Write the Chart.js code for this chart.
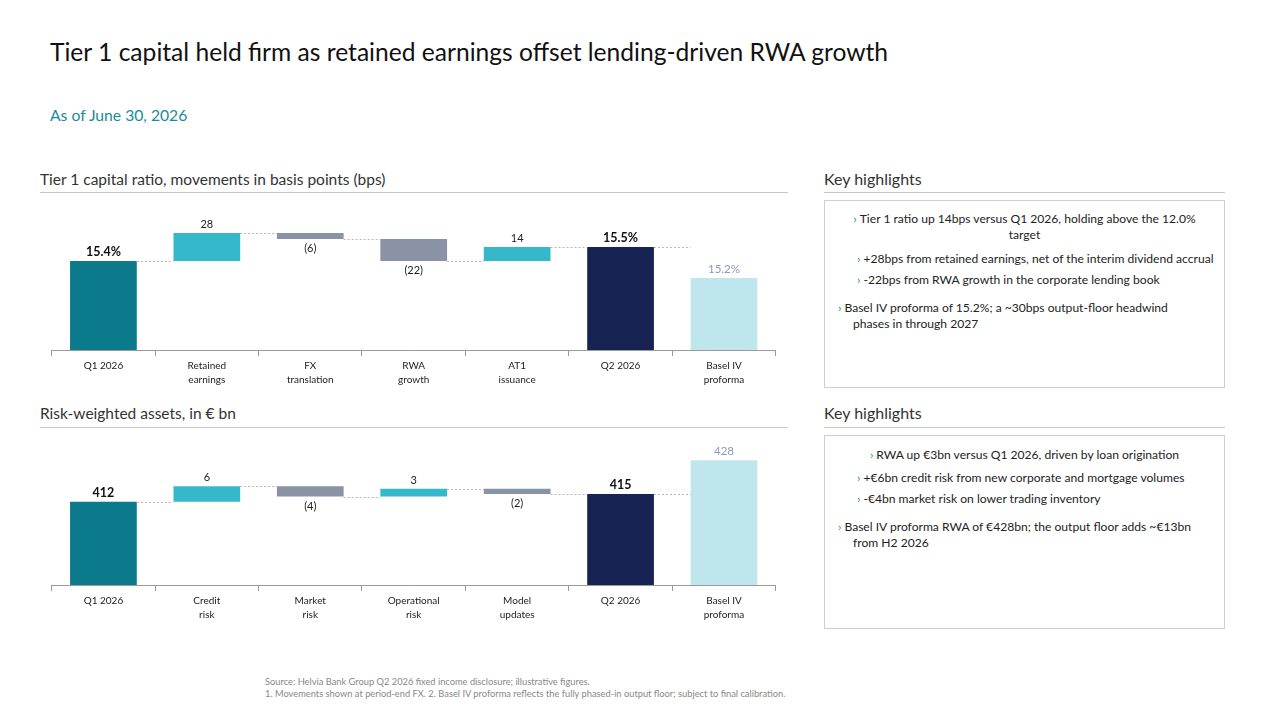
<!DOCTYPE html>
<html>
<head>
<meta charset="utf-8">
<script src="https://cdn.jsdelivr.net/npm/chart.js@4.4.1/dist/chart.umd.min.js"></script>
<style>
  body { margin: 0; background: #fff; font-family: Lato, "Open Sans", sans-serif; color: #222; }
  #page { position: relative; width: 1280px; height: 720px; overflow: hidden; }
  .abs { position: absolute; white-space: nowrap; }
  .title { left: 50px; top: 37px; font-size: 24.6px; line-height: 30px; color: #111; }
  .sub { left: 50px; top: 105px; font-size: 15.7px; line-height: 20px; color: #1a8a9c; }
  .hdr { font-size: 15.5px; line-height: 20px; color: #333; }
  .kh { font-size: 16px; line-height: 20px; color: #333; }
  .rule { position: absolute; height: 1px; background: #c8c8c8; }
  .box { position: absolute; border: 1px solid #cfcfcf; box-sizing: border-box; }
  .hl { font-size: 12.1px; line-height: 16px; color: #222; }
  .hl b { color: #1a8a9c; font-weight: normal; margin-right: 3px; }
  .hang { padding-left: 15px; text-indent: -15px; }
  .foot { left: 265px; font-size: 9.3px; line-height: 12px; color: #888; }
  canvas { position: absolute; }
</style>
</head>
<body>
<div id="page">
  <div class="abs title">Tier 1 capital held firm as retained earnings offset lending-driven RWA growth</div>
  <div class="abs sub">As of June 30, 2026</div>

  <div class="abs hdr" style="left:40px; top:169px;">Tier 1 capital ratio, movements in basis points (bps)</div>
  <div class="rule" style="left:40px; top:192px; width:748px;"></div>
  <div class="abs kh" style="left:824px; top:169px;">Key highlights</div>
  <div class="rule" style="left:824px; top:192px; width:401px;"></div>
  <div class="box" style="left:824px; top:200px; width:401px; height:188px;"></div>
  <div class="abs hl" style="left:824px; width:401px; top:211px; text-align:center;"><b>›</b>Tier 1 ratio up 14bps versus Q1 2026, holding above the 12.0%<br>target</div>
  <div class="abs hl" style="left:857px; top:251px;"><b>›</b>+28bps from retained earnings, net of the interim dividend accrual</div>
  <div class="abs hl" style="left:857px; top:272px;"><b>›</b>-22bps from RWA growth in the corporate lending book</div>
  <div class="abs hl hang" style="left:838px; top:300px;"><b>›</b>Basel IV proforma of 15.2%; a ~30bps output-floor headwind<br>phases in through 2027</div>

  <div class="abs hdr" style="left:40px; top:403px;">Risk-weighted assets, in € bn</div>
  <div class="rule" style="left:40px; top:427px; width:748px;"></div>
  <div class="abs kh" style="left:824px; top:403px;">Key highlights</div>
  <div class="rule" style="left:824px; top:427px; width:401px;"></div>
  <div class="box" style="left:824px; top:435px; width:401px; height:194px;"></div>
  <div class="abs hl" style="left:824px; width:401px; top:447px; text-align:center;"><b>›</b>RWA up €3bn versus Q1 2026, driven by loan origination</div>
  <div class="abs hl" style="left:857px; top:470px;"><b>›</b>+€6bn credit risk from new corporate and mortgage volumes</div>
  <div class="abs hl" style="left:857px; top:491px;"><b>›</b>-€4bn market risk on lower trading inventory</div>
  <div class="abs hl hang" style="left:838px; top:519px;"><b>›</b>Basel IV proforma RWA of €428bn; the output floor adds ~€13bn<br>from H2 2026</div>

  <canvas id="t1Chart" width="752" height="195" style="left:40px; top:195px;"></canvas>
  <canvas id="rwaChart" width="752" height="188" style="left:40px; top:437px;"></canvas>

  <div class="abs foot" style="top:676px;">Source: Helvia Bank Group Q2 2026 fixed income disclosure; illustrative figures.</div>
  <div class="abs foot" style="top:688px;">1. Movements shown at period-end FX. 2. Basel IV proforma reflects the fully phased-in output floor; subject to final calibration.</div>
</div>

<script>
// Tier 1 ratio waterfall (in bps)
const t1Labels = [['Q1 2026'], ['Retained', 'earnings'], ['FX', 'translation'], ['RWA', 'growth'], ['AT1', 'issuance'], ['Q2 2026'], ['Basel IV', 'proforma']];
const t1Values = [1540, 28, -6, -22, 14, 1554, 1523];
const t1Kinds = ['start', 'up', 'down', 'down', 'up', 'end', 'proforma'];

// RWA waterfall (EUR bn)
const rwaLabels = [['Q1 2026'], ['Credit', 'risk'], ['Market', 'risk'], ['Operational', 'risk'], ['Model', 'updates'], ['Q2 2026'], ['Basel IV', 'proforma']];
const rwaValues = [412, 6, -4, 3, -2, 415, 428];
const rwaKinds = ['start', 'up', 'down', 'up', 'down', 'end', 'proforma'];

const FONT = 'Lato, "Open Sans", sans-serif';
const kindColor = { start: '#0B7A8B', up: '#36B8CB', down: '#8A93A6', end: '#172352', proforma: '#BFE6ED' };

const waterfallDecor = {
  id: 'waterfallDecor',
  afterDatasetsDraw(chart, args, o) {
    const ctx = chart.ctx;
    const bars = chart.getDatasetMeta(0).data;
    const y = chart.scales.y;
    ctx.save();
    // dashed connectors between bars
    ctx.strokeStyle = '#b8b8b8';
    ctx.lineWidth = 1;
    ctx.setLineDash([2, 2]);
    for (let i = 0; i < bars.length - 1; i++) {
      const a = bars[i], b = bars[i + 1];
      const py = Math.round(y.getPixelForValue(o.levels[i])) + 0.5;
      ctx.beginPath();
      ctx.moveTo(a.x + a.width / 2, py);
      ctx.lineTo(b.x - b.width / 2, py);
      ctx.stroke();
    }
    ctx.setLineDash([]);
    // value labels
    ctx.textAlign = 'center';
    bars.forEach((bar, i) => {
      const kind = o.kinds[i];
      const top = Math.min(bar.y, bar.base), bottom = Math.max(bar.y, bar.base);
      if (kind === 'start' || kind === 'end') {
        ctx.font = 'bold 12.5px ' + FONT; ctx.fillStyle = '#111';
      } else if (kind === 'proforma') {
        ctx.font = '11.5px ' + FONT; ctx.fillStyle = '#8A9BB8';
      } else {
        ctx.font = '11px ' + FONT; ctx.fillStyle = '#222';
      }
      if (kind === 'down') {
        ctx.textBaseline = 'top';
        ctx.fillText(o.text[i], bar.x, bottom + 4);
      } else {
        ctx.textBaseline = 'bottom';
        ctx.fillText(o.text[i], bar.x, top - 3);
      }
    });
    ctx.restore();
  }
};

function makeWaterfall(id, labels, values, kinds, yMin, yMax, fmt) {
  const ranges = [], levels = [], text = [];
  let run = 0;
  values.forEach((v, i) => {
    if (kinds[i] === 'up' || kinds[i] === 'down') {
      ranges.push([run, run + v]);
      run += v;
      text.push(v < 0 ? '(' + Math.abs(v) + ')' : String(v));
    } else {
      ranges.push([yMin, v]);
      if (kinds[i] !== 'proforma') run = v;
      text.push(fmt(v));
    }
    levels.push(kinds[i] === 'proforma' ? v : run);
  });

  new Chart(document.getElementById(id), {
    type: 'bar',
    data: {
      labels: labels,
      datasets: [{
        data: ranges,
        backgroundColor: kinds.map(k => kindColor[k]),
        borderWidth: 0,
        borderSkipped: false,
        barPercentage: 0.645,
        categoryPercentage: 1
      }]
    },
    options: {
      responsive: false,
      animation: false,
      devicePixelRatio: 1,
      layout: { padding: { left: 11.7, right: 16.3, top: 5, bottom: 0 } },
      plugins: {
        legend: { display: false },
        tooltip: { enabled: false },
        waterfallDecor: { levels: levels, text: text, kinds: kinds }
      },
      scales: {
        x: {
          afterFit: s => { s.height = 40; },
          grid: { display: true, drawOnChartArea: false, drawTicks: true, tickLength: 6, color: '#9a9a9a', offset: true },
          border: { display: true, color: '#9a9a9a' },
          ticks: { color: '#222', padding: 3, maxRotation: 0, autoSkip: false, font: { family: FONT, size: 10, lineHeight: 1.4 } }
        },
        y: { display: false, min: yMin, max: yMax }
      }
    },
    plugins: [waterfallDecor]
  });
}

makeWaterfall('t1Chart', t1Labels, t1Values, t1Kinds, 1451, 1601, v => (v / 100).toFixed(1) + '%');
makeWaterfall('rwaChart', rwaLabels, rwaValues, rwaKinds, 380, 435, v => String(v));
</script>
</body>
</html>
